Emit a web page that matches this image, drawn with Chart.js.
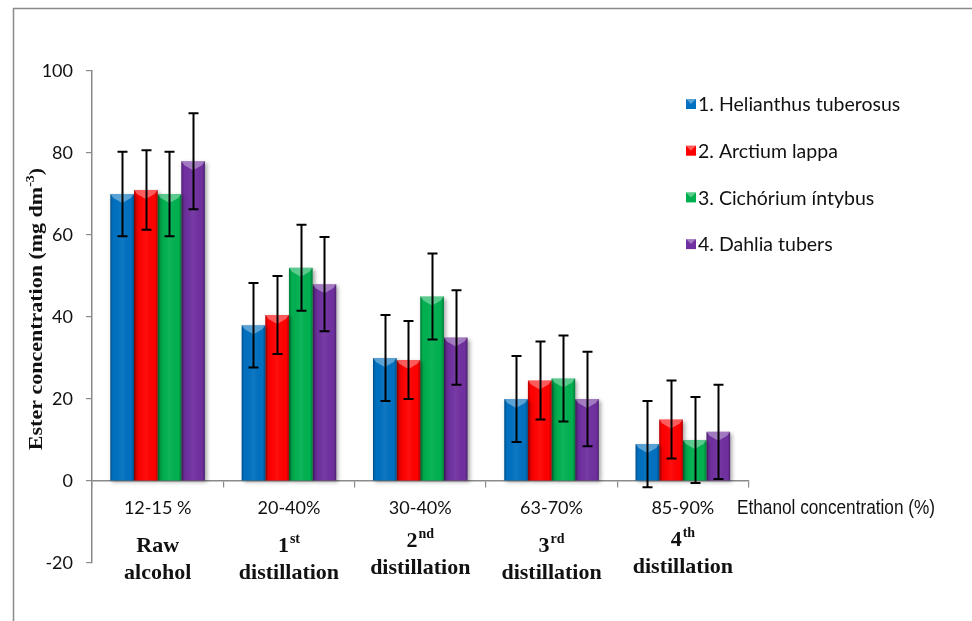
<!DOCTYPE html>
<html><head><meta charset="utf-8">
<script src="https://cdn.jsdelivr.net/npm/chart.js@4/dist/chart.umd.min.js"></script>
<style>html,body{margin:0;padding:0;background:#fff}#wrap{width:972px;height:621px;position:relative}</style>
</head><body><div id="wrap"><canvas id="c" width="972" height="621"></canvas></div>
<script>
// ---- data ----
const categories = ['12-15 %', '20-40%', '30-40%', '63-70%', '85-90%'];
const stageMain = ['Raw', '1', '2', '3', '4'];
const stageSup = ['', 'st', 'nd', 'rd', 'th'];
const stageSecond = ['alcohol', 'distillation', 'distillation', 'distillation', 'distillation'];
const seriesNames = ['1. Helianthus tuberosus', '2. Arctium lappa', '3. Cichórium íntybus', '4. Dahlia tubers'];
const helianthus = [70, 38, 30, 20, 9];
const arctium = [71, 40.5, 29.5, 24.5, 15];
const cichorium = [70, 52, 45, 25, 10];
const dahlia = [78, 48, 35, 20, 12];
const helianthusErr = [10.3, 10.3, 10.5, 10.5, 10.5];
const arctiumErr = [9.7, 9.5, 9.5, 9.5, 9.5];
const cichoriumErr = [10.3, 10.5, 10.5, 10.5, 10.5];
const dahliaErr = [11.7, 11.5, 11.5, 11.5, 11.5];
const yMin = -20, yMax = 100, yStep = 20;
const xTitle = 'Ethanol concentration (%)';
const yTitle = 'Ester concentration (mg dm';
const yTitleSup = '-3';

const colors = ['#0070C0', '#FF0000', '#00B050', '#7030A0'];
const seriesValues = [helianthus, arctium, cichorium, dahlia];
const seriesErrors = [helianthusErr, arctiumErr, cichoriumErr, dahliaErr];

const shadowPlugin = {
  id: 'shadow',
  beforeDatasetsDraw(chart) {
    const ctx = chart.ctx;
    ctx.save();
    ctx.shadowColor = 'rgba(0,0,0,0.35)';
    ctx.shadowBlur = 4;
    ctx.shadowOffsetX = 2;
    ctx.shadowOffsetY = 2;
  },
  afterDatasetsDraw(chart) {
    const ctx = chart.ctx;
    ctx.restore();
    chart.data.datasets.forEach((ds, di) => {
      const meta = chart.getDatasetMeta(di);
      meta.data.forEach((bar) => {
        const l = bar.x - bar.width / 2, r = bar.x + bar.width / 2;
        const t = Math.min(bar.y, bar.base), b = Math.max(bar.y, bar.base);
        const g = ctx.createLinearGradient(l, 0, r, 0);
        g.addColorStop(0, 'rgba(0,0,0,0.28)');
        g.addColorStop(0.12, 'rgba(0,0,0,0.0)');
        g.addColorStop(0.5, 'rgba(255,255,255,0.06)');
        g.addColorStop(0.88, 'rgba(0,0,0,0.0)');
        g.addColorStop(1, 'rgba(0,0,0,0.3)');
        ctx.fillStyle = g;
        ctx.fillRect(l, t, r - l, b - t);
        ctx.beginPath();
        ctx.moveTo(l, t);
        ctx.lineTo(r, t);
        ctx.lineTo(r - 3, t + 4);
        ctx.lineTo(bar.x, t + 9);
        ctx.lineTo(l + 3, t + 4);
        ctx.closePath();
        ctx.fillStyle = 'rgba(255,255,255,0.35)';
        ctx.fill();
      });
    });
    // error bars
    const ys = chart.scales.y;
    ctx.save();
    ctx.strokeStyle = '#000';
    ctx.lineWidth = 2;
    chart.data.datasets.forEach((ds, di) => {
      const meta = chart.getDatasetMeta(di);
      meta.data.forEach((bar, i) => {
        const v = ds.data[i], e = seriesErrors[di][i];
        const yt = ys.getPixelForValue(v + e), yb = ys.getPixelForValue(v - e);
        const x = Math.round(bar.x) + 0.5;
        ctx.beginPath();
        ctx.moveTo(x, yt); ctx.lineTo(x, yb);
        ctx.moveTo(x - 5, yt); ctx.lineTo(x + 5, yt);
        ctx.moveTo(x - 5, yb); ctx.lineTo(x + 5, yb);
        ctx.stroke();
      });
    });
    ctx.restore();
  }
};

const decorPlugin = {
  id: 'decor',
  afterDraw(chart) {
    const ctx = chart.ctx;
    const xs = chart.scales.x;
    ctx.save();
    // frame
    ctx.strokeStyle = '#8a8a8a';
    ctx.lineWidth = 1.5;
    ctx.beginPath();
    ctx.moveTo(13.5, 621); ctx.lineTo(13.5, 8.5); ctx.lineTo(972, 8.5);
    ctx.stroke();
    // legend
    ctx.textBaseline = 'middle';
    ctx.textAlign = 'left';
    chart.data.datasets.forEach((ds, i) => {
      const cy = 104 + i * 46.7;
      ctx.fillStyle = ds.backgroundColor;
      ctx.fillRect(686, cy - 5, 10, 10);
      ctx.fillStyle = 'rgba(255,255,255,0.35)';
      ctx.beginPath(); ctx.moveTo(686, cy - 5); ctx.lineTo(696, cy - 5); ctx.lineTo(691, cy); ctx.closePath(); ctx.fill();
      ctx.fillStyle = '#111';
      ctx.font = '19.5px Lato, "Open Sans", sans-serif';
      ctx.fillText(ds.label, 698, cy + 1);
    });
    // x title (condensed)
    ctx.save();
    ctx.font = '21px "Liberation Sans", sans-serif';
    ctx.fillStyle = '#111';
    const tw = ctx.measureText(xTitle).width;
    ctx.translate(737, 508);
    ctx.scale(198 / tw, 1);
    ctx.fillText(xTitle, 0, 0);
    ctx.restore();
    // stage labels
    ctx.textBaseline = 'alphabetic';
    ctx.fillStyle = '#111';
    const shiftUp = [0, 0, 5, 0, 6];
    categories.forEach((c, i) => {
      const cx = xs.getPixelForValue(i);
      const y1 = 552 - shiftUp[i], y2 = 579 - shiftUp[i];
      ctx.font = 'bold 22px "Liberation Serif", "Times New Roman", serif';
      const mw = ctx.measureText(stageMain[i]).width;
      ctx.font = 'bold 14px "Liberation Serif", serif';
      const sw = stageSup[i] ? ctx.measureText(stageSup[i]).width + 1 : 0;
      const x0 = cx - (mw + sw) / 2;
      ctx.textAlign = 'left';
      ctx.font = 'bold 22px "Liberation Serif", "Times New Roman", serif';
      ctx.fillText(stageMain[i], x0, y1);
      if (stageSup[i]) {
        ctx.font = 'bold 14px "Liberation Serif", serif';
        ctx.fillText(stageSup[i], x0 + mw + 1, y1 - 9);
      }
      ctx.textAlign = 'center';
      ctx.font = 'bold 22px "Liberation Serif", "Times New Roman", serif';
      ctx.fillText(stageSecond[i], cx, y2);
    });
    // y title
    ctx.translate(42, 309);
    ctx.rotate(-Math.PI / 2);
    ctx.scale(1, 0.9);
    ctx.font = 'bold 22px "Liberation Serif", serif';
    const w1 = ctx.measureText(yTitle).width;
    ctx.font = 'bold 14px "Liberation Serif", serif';
    const w2 = ctx.measureText(yTitleSup).width;
    ctx.font = 'bold 22px "Liberation Serif", serif';
    const w3 = ctx.measureText(')').width;
    const tot = w1 + w2 + w3;
    ctx.textAlign = 'left';
    ctx.fillText(yTitle, -tot / 2, 0);
    ctx.font = 'bold 14px "Liberation Serif", serif';
    ctx.fillText(yTitleSup, -tot / 2 + w1, -9);
    ctx.font = 'bold 22px "Liberation Serif", serif';
    ctx.fillText(')', -tot / 2 + w1 + w2, 0);
    ctx.restore();
  }
};

new Chart(document.getElementById('c'), {
  type: 'bar',
  data: {
    labels: categories,
    datasets: seriesNames.map((n, i) => ({
      label: n,
      data: seriesValues[i],
      backgroundColor: colors[i],
      borderWidth: 0,
      categoryPercentage: 0.72,
      barPercentage: 1.0
    }))
  },
  options: {
    responsive: false,
    animation: false,
    devicePixelRatio: 1,
    layout: { padding: { left: 0, right: 223.5, top: 71, bottom: 58 } },
    plugins: { legend: { display: false }, tooltip: { enabled: false } },
    scales: {
      x: {
        position: { y: 0 },
        grid: { display: true, offset: true, drawOnChartArea: false, tickLength: 6, color: '#8a8a8a', lineWidth: 1.2 },
        border: { color: '#8a8a8a', width: 1.5 },
        ticks: { color: '#111', font: { family: 'Lato, "Open Sans", sans-serif', size: 18 }, padding: 10 }
      },
      y: {
        min: yMin, max: yMax,
        afterFit(scale) { scale.width = 92; },
        grid: { display: true, drawOnChartArea: false, tickLength: 6, color: '#8a8a8a', lineWidth: 1.2 },
        border: { color: '#8a8a8a', width: 1.5 },
        ticks: { stepSize: yStep, color: '#111', font: { family: 'Lato, "Open Sans", sans-serif', size: 18 }, padding: 13 }
      }
    }
  },
  plugins: [shadowPlugin, decorPlugin]
});
</script>
</body></html>
